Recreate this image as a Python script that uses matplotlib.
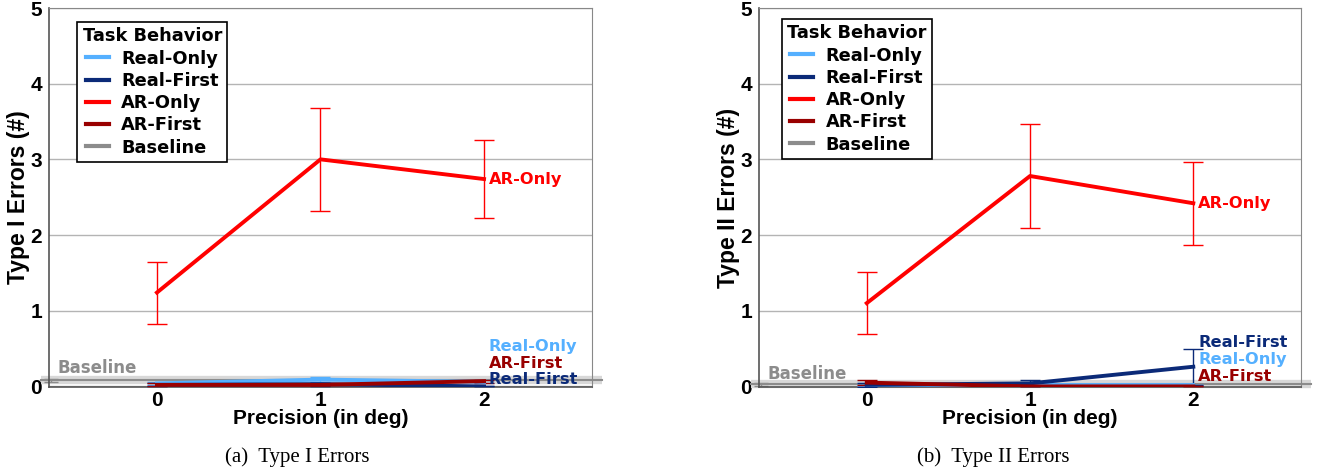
import matplotlib.pyplot as plt

# precision levels (deg)
precision = [0, 1, 2]
xtick_labels = ["0", "1", "2"]
series_names = ["Real-Only", "Real-First", "AR-Only", "AR-First"]

# Type I errors: means and error-bar half widths
t1_real_only = [0.04, 0.09, 0.06]
t1_real_only_err = [0.02, 0.03, 0.02]
t1_real_first = [0.02, 0.03, 0.0]
t1_real_first_err = [0.02, 0.02, 0.0]
t1_ar_only = [1.24, 3.00, 2.74]
t1_ar_only_err = [0.41, 0.68, 0.51]
t1_ar_first = [0.02, 0.02, 0.07]
t1_ar_first_err = [0.02, 0.0, 0.02]
t1_baseline = 0.08

# Type II errors
t2_real_only = [0.02, 0.02, 0.02]
t2_real_only_err = [0.02, 0.0, 0.0]
t2_real_first = [0.02, 0.04, 0.26]
t2_real_first_err = [0.03, 0.04, 0.24]
t2_ar_only = [1.10, 2.78, 2.42]
t2_ar_only_err = [0.41, 0.69, 0.55]
t2_ar_first = [0.05, 0.0, 0.0]
t2_ar_first_err = [0.03, 0.0, 0.0]
t2_baseline = 0.03

colors = {"Real-Only": "#55b0ff", "Real-First": "#0b2a78",
          "AR-Only": "#ff0000", "AR-First": "#990000", "Baseline": "#8c8c8c"}

VERD = "DejaVu Sans"
ARIAL = "Liberation Sans"

fig = plt.figure(figsize=(13.17, 4.71), dpi=100)
ax1 = fig.add_axes([0.0372, 0.178, 0.4123, 0.805])
ax2 = fig.add_axes([0.5763, 0.178, 0.4116, 0.805])


def draw_panel(ax, data, errs, baseline, ylabel, end_labels, base_lab_y, leg_xy):
    # baseline band + line, running a little past the frame
    ax.plot([-0.71, 2.72], [baseline, baseline], color="#d8d8d8", lw=6,
            clip_on=False, zorder=2, solid_capstyle="butt")
    ax.plot([-0.71, 2.72], [baseline, baseline], color=colors["Baseline"], lw=1.5,
            clip_on=False, zorder=2)
    ax.errorbar([-0.65], [baseline], yerr=[0.02], color=colors["Baseline"],
                capsize=5, lw=1, clip_on=False, zorder=2)
    ax.text(-0.61, base_lab_y, "Baseline", color=colors["Baseline"], family=VERD,
            fontweight="bold", fontsize=12, ha="left", va="center")

    order = ["Real-Only", "Real-First", "AR-First", "AR-Only"]
    for name in order:
        ax.errorbar(precision, data[name], yerr=errs[name], color=colors[name],
                    lw=2.8, elinewidth=1, capsize=7, capthick=1, zorder=3)

    for name, y in end_labels.items():
        ax.text(2.03, y, name, color=colors[name], family=VERD, fontweight="bold",
                fontsize=11.7, ha="left", va="center", zorder=5)

    ax.set_xlim(-0.66, 2.66)
    ax.set_ylim(-0.01, 5)
    ax.set_xticks(precision)
    ax.set_xticklabels(xtick_labels)
    ax.set_yticks([0, 1, 2, 3, 4, 5])
    ax.tick_params(length=0, labelsize=15, pad=5)
    ax.tick_params(axis="x", pad=3)
    for lab in ax.get_xticklabels() + ax.get_yticklabels():
        lab.set_fontfamily(ARIAL)
        lab.set_fontweight("bold")
    ax.grid(axis="y", color="#b4b4b4", lw=1)
    ax.set_axisbelow(True)
    for s in ["top", "right"]:
        ax.spines[s].set_color("#888888")
    for s in ["left", "bottom"]:
        ax.spines[s].set_color("#555555")
        ax.spines[s].set_linewidth(1.2)
    ax.set_xlabel("Precision (in deg)", family=ARIAL, fontweight="bold",
                  fontsize=15, labelpad=-1)
    ax.set_ylabel(ylabel, family=ARIAL, fontweight="bold", fontsize=16.5, labelpad=0)

    handles = [plt.Line2D([], [], color=colors[n], lw=3)
               for n in series_names + ["Baseline"]]
    leg = ax.legend(handles, series_names + ["Baseline"], title="Task Behavior",
                    loc="upper left", bbox_to_anchor=leg_xy, borderaxespad=0,
                    fancybox=False, edgecolor="black", framealpha=1,
                    handlelength=1.3, handletextpad=0.7, labelspacing=0.24,
                    borderpad=0.3, prop={"family": VERD, "weight": "bold", "size": 12.8},
                    title_fontproperties={"family": VERD, "weight": "bold", "size": 12.8})
    leg.get_frame().set_linewidth(1.2)
    leg.set_zorder(6)


draw_panel(ax1,
           {"Real-Only": t1_real_only, "Real-First": t1_real_first,
            "AR-Only": t1_ar_only, "AR-First": t1_ar_first},
           {"Real-Only": t1_real_only_err, "Real-First": t1_real_first_err,
            "AR-Only": t1_ar_only_err, "AR-First": t1_ar_first_err},
           t1_baseline, "Type I Errors (#)",
           {"AR-Only": t1_ar_only[2], "Real-Only": 0.53, "AR-First": 0.30,
            "Real-First": 0.09},
           0.24, (0.052, 0.963))

draw_panel(ax2,
           {"Real-Only": t2_real_only, "Real-First": t2_real_first,
            "AR-Only": t2_ar_only, "AR-First": t2_ar_first},
           {"Real-Only": t2_real_only_err, "Real-First": t2_real_first_err,
            "AR-Only": t2_ar_only_err, "AR-First": t2_ar_first_err},
           t2_baseline, "Type II Errors (#)",
           {"AR-Only": t2_ar_only[2], "Real-First": 0.58, "Real-Only": 0.36,
            "AR-First": 0.13},
           0.17, (0.042, 0.971))

fig.text(0.2255, 0.029, "(a)  Type I Errors", family="Liberation Serif",
         fontsize=15, ha="center", va="center")
fig.text(0.754, 0.029, "(b)  Type II Errors", family="Liberation Serif",
         fontsize=15, ha="center", va="center")

fig.savefig("out.png", dpi=100)
